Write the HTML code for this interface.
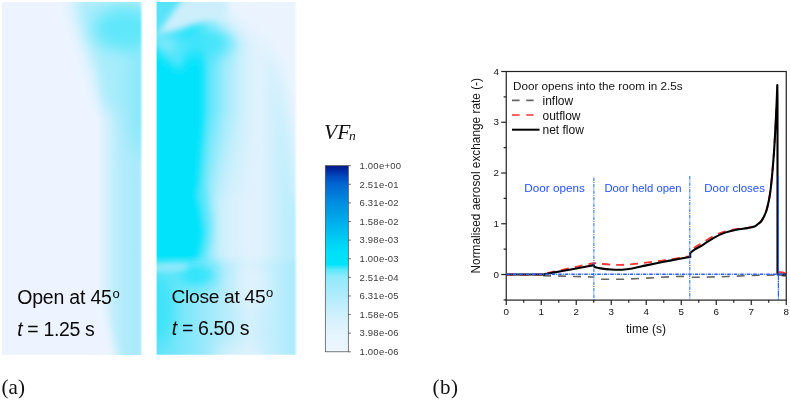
<!DOCTYPE html>
<html><head><meta charset="utf-8">
<style>
html,body{margin:0;padding:0;background:#fff;}
body{width:790px;height:400px;overflow:hidden;font-family:"Liberation Sans",sans-serif;}
svg{display:block;}
text{font-family:"Liberation Sans",sans-serif;}
.serif{font-family:"Liberation Serif",serif;}
</style></head><body>
<svg width="790" height="400" viewBox="0 0 790 400" style="opacity:0.999">
<defs>
<filter id="b3" x="-50%" y="-50%" width="200%" height="200%"><feGaussianBlur stdDeviation="3"/></filter>
<filter id="b5" x="-50%" y="-50%" width="200%" height="200%"><feGaussianBlur stdDeviation="5"/></filter>
<filter id="b8" x="-50%" y="-50%" width="200%" height="200%"><feGaussianBlur stdDeviation="8"/></filter>
<filter id="b12" x="-50%" y="-50%" width="200%" height="200%"><feGaussianBlur stdDeviation="12"/></filter>
<filter id="b1" x="-50%" y="-50%" width="200%" height="200%"><feGaussianBlur stdDeviation="1"/></filter>
<filter id="b10" x="-50%" y="-50%" width="200%" height="200%"><feGaussianBlur stdDeviation="10"/></filter>
<filter id="e1" x="-5%" y="-5%" width="110%" height="110%"><feGaussianBlur stdDeviation="0.6"/></filter>
<clipPath id="c1"><rect x="2" y="2" width="141.5" height="353"/></clipPath>
<clipPath id="c2"><rect x="156.6" y="2" width="141.4" height="352.8"/></clipPath>
<linearGradient id="p1band" gradientUnits="userSpaceOnUse" x1="2" y1="0" x2="142" y2="0">
<stop offset="0" stop-color="#edf4ff"/><stop offset="0.675" stop-color="#edf4ff"/><stop offset="0.735" stop-color="#daf1fd"/><stop offset="0.80" stop-color="#c0eefc"/><stop offset="0.87" stop-color="#b2ebfb"/><stop offset="0.95" stop-color="#aaeafb"/><stop offset="1" stop-color="#b2ebfc"/>
</linearGradient>
<linearGradient id="p2right" x1="0" y1="0" x2="1" y2="0">
<stop offset="0" stop-color="#e4f2fd"/><stop offset="0.70" stop-color="#e4f2fd"/><stop offset="0.86" stop-color="#c4eefc"/><stop offset="1" stop-color="#aeebfb"/>
</linearGradient>
<linearGradient id="p2mid" gradientUnits="userSpaceOnUse" x1="157" y1="0" x2="297" y2="0">
<stop offset="0" stop-color="#00e3fa"/><stop offset="0.245" stop-color="#00e3fa"/><stop offset="0.307" stop-color="#50e5fa"/><stop offset="0.379" stop-color="#a0ebfb"/><stop offset="0.45" stop-color="#c8effc"/><stop offset="0.53" stop-color="#d8f1fd"/><stop offset="0.664" stop-color="#e1f2fd"/><stop offset="0.74" stop-color="#e0f2fd"/><stop offset="0.83" stop-color="#d0f0fc"/><stop offset="0.91" stop-color="#c0eefc"/><stop offset="1" stop-color="#b8edfc"/>
</linearGradient>
<linearGradient id="p2halo" gradientUnits="userSpaceOnUse" x1="199" y1="0" x2="260" y2="0">
<stop offset="0" stop-color="#10e3fa"/><stop offset="0.17" stop-color="#5ce6fa"/><stop offset="0.42" stop-color="#9eebfb"/><stop offset="0.62" stop-color="#c0eefc"/><stop offset="0.85" stop-color="#d6f1fd" stop-opacity="0.7"/><stop offset="1" stop-color="#dcf1fd" stop-opacity="0"/>
</linearGradient>
<linearGradient id="ghalo" x1="0" y1="0" x2="0" y2="1"><stop offset="0" stop-color="#000"/><stop offset="0.08" stop-color="#fff"/><stop offset="0.45" stop-color="#fff"/><stop offset="0.95" stop-color="#000"/></linearGradient>
<mask id="mhalo" maskUnits="userSpaceOnUse" x="192" y="30" width="72" height="180"><rect x="192" y="30" width="72" height="180" fill="url(#ghalo)"/></mask>
<linearGradient id="p2bot" gradientUnits="userSpaceOnUse" x1="157" y1="0" x2="297" y2="0">
<stop offset="0" stop-color="#62e4f9"/><stop offset="0.27" stop-color="#8ce8fb"/><stop offset="0.48" stop-color="#b5ecfb"/><stop offset="0.66" stop-color="#d4f0fd"/><stop offset="0.84" stop-color="#c0eefc"/><stop offset="1" stop-color="#a8eafb"/>
</linearGradient>
<linearGradient id="p2top" gradientUnits="userSpaceOnUse" x1="157" y1="0" x2="297" y2="0">
<stop offset="0" stop-color="#70e6fa"/><stop offset="0.2" stop-color="#8ae8fb"/><stop offset="0.35" stop-color="#d6f1fd"/><stop offset="0.5" stop-color="#e6f3fe"/><stop offset="1" stop-color="#edf4ff"/>
</linearGradient>
<linearGradient id="gbot" x1="0" y1="0" x2="0" y2="1"><stop offset="0.125" stop-color="#000"/><stop offset="0.215" stop-color="#fff"/></linearGradient>
<linearGradient id="gtop" x1="0" y1="0" x2="0" y2="1"><stop offset="0.35" stop-color="#fff"/><stop offset="0.85" stop-color="#000"/></linearGradient>
<mask id="mbot" maskUnits="userSpaceOnUse" x="150" y="240" width="150" height="120"><rect x="150" y="240" width="150" height="120" fill="url(#gbot)"/></mask>
<mask id="mtop" maskUnits="userSpaceOnUse" x="150" y="0" width="150" height="70"><rect x="150" y="0" width="150" height="70" fill="url(#gtop)"/></mask>
<linearGradient id="p2base" x1="0" y1="0" x2="1" y2="0">
<stop offset="0" stop-color="#00e3fa"/><stop offset="0.30" stop-color="#05e3fa"/><stop offset="0.42" stop-color="#7fe8fb"/><stop offset="0.55" stop-color="#cdeffc"/><stop offset="0.70" stop-color="#e2f2fd"/><stop offset="0.85" stop-color="#c4eefc"/><stop offset="1" stop-color="#b4ecfb"/>
</linearGradient>
<linearGradient id="wfade" x1="0" y1="0" x2="1" y2="0"><stop offset="0" stop-color="#fff" stop-opacity="0"/><stop offset="0.8" stop-color="#fff" stop-opacity="1"/><stop offset="1" stop-color="#fff" stop-opacity="1"/></linearGradient>
<linearGradient id="cbg" x1="0" y1="0" x2="0" y2="1">
<stop offset="0" stop-color="#001888"/><stop offset="0.03" stop-color="#0030a8"/><stop offset="0.06" stop-color="#004cc0"/><stop offset="0.10" stop-color="#0066d0"/><stop offset="0.20" stop-color="#008ee0"/><stop offset="0.30" stop-color="#00aeec"/><stop offset="0.40" stop-color="#00cef4"/><stop offset="0.47" stop-color="#00e0f9"/><stop offset="0.53" stop-color="#00e4fa"/><stop offset="0.56" stop-color="#60e8fa"/><stop offset="0.60" stop-color="#90eafb"/><stop offset="0.70" stop-color="#b0ecfc"/><stop offset="0.80" stop-color="#d0f0fd"/><stop offset="0.90" stop-color="#e4f4fe"/><stop offset="1" stop-color="#eef6ff"/>
</linearGradient>
</defs>

<!-- panel 1 -->
<g clip-path="url(#c1)" filter="url(#e1)">
<rect x="2" y="2" width="140" height="353" fill="#edf4ff"/>
<rect x="2" y="60" width="140" height="300" fill="url(#p1band)"/>
<g filter="url(#b8)">
<path d="M74,-6 L150,-6 L150,110 L104,110 Q96,70 84,40 Q76,20 74,-6 Z" fill="#a8ecfb"/>
</g>
<path d="M90,295 L101,295 Q108,330 119,362 L90,362 Z" fill="#edf4ff" filter="url(#b5)"/>
<g filter="url(#b10)">
<ellipse cx="146" cy="95" rx="17" ry="62" fill="#84e8fa"/>
</g>
<g filter="url(#b8)">
<ellipse cx="126" cy="29" rx="32" ry="22" fill="#60e7fa"/>
</g>
</g>
<rect x="139.8" y="1" width="4.2" height="355" fill="url(#wfade)"/>

<!-- panel 2 -->
<g clip-path="url(#c2)" filter="url(#e1)">
<rect x="150" y="0" width="150" height="360" fill="url(#p2mid)"/>
<!-- wider halo near top -->
<rect x="192" y="30" width="72" height="180" fill="url(#p2halo)" mask="url(#mhalo)"/>
<path d="M192,188 L205,192 L212,224 L209,250 L192,257 Z" fill="#4ce5fa" opacity="0.75" filter="url(#b5)"/>
<g filter="url(#b3)">
<path d="M170,40 L201,40 L201,125 L194,200 L170,200 Z" fill="#00e3fa"/>
<path d="M180,200 L197,200 L203,232 L200,250 L194,259 L180,259 Z" fill="#00e3fa"/>
</g>
<!-- bottom overlay -->
<rect x="150" y="240" width="150" height="120" fill="url(#p2bot)" mask="url(#mbot)"/>
<!-- top-right light region -->
<g filter="url(#b8)">
<path d="M200,-10 L310,-10 L310,200 L298,200 L288,125 L277,68 L254,28 L215,10 Z" fill="#ebf4fe"/>
</g>
<g filter="url(#b5)">
<path d="M150,-5 L200,-5 L196,20 L180,36 L150,44 Z" fill="#58e3f9"/>
</g>
<g filter="url(#b8)">
<ellipse cx="204" cy="42" rx="28" ry="15" fill="#44e4fa"/>
<ellipse cx="197" cy="275" rx="20" ry="10" fill="#18e3fa"/>
<ellipse cx="158" cy="308" rx="16" ry="36" fill="#3ce3f9"/>
<ellipse cx="252" cy="284" rx="14" ry="24" fill="#dff2fd"/>
<ellipse cx="240" cy="356" rx="24" ry="8" fill="#e0f3fd"/>
</g>
<g filter="url(#b3)" fill="none" stroke-linecap="round">
<path d="M184,-3 L228,-3 L228,16 L195,24 L156,36 Z" fill="#cdeffc" stroke="none"/>
<path d="M154,268 L184,267" stroke="#a6ecfb" stroke-width="5"/>
</g>
<g filter="url(#b5)" fill="none" stroke-linecap="round">
<path d="M154,33 L191,41 L181,71 L168,62 L154,48 Z" fill="#52e5fb" stroke="none"/>
<path d="M154,33 L178,38 L170,54 L154,44 Z" fill="#7ae8fb" stroke="none"/>
</g>
</g>

<rect x="294" y="1" width="4.2" height="355" fill="url(#wfade)"/>
<!-- panel text -->
<g font-size="19.5" fill="#0a0a0a" letter-spacing="-0.2">
<text x="17.2" y="304">Open at 45<tspan font-size="13" dy="-6.5" dx="0.8">o</tspan></text>
<text x="17.2" y="336.2" letter-spacing="-0.35"><tspan font-style="italic">t</tspan> = 1.25 s</text>
<text x="171.5" y="303" font-size="19.2" letter-spacing="-0.3">Close at 45<tspan font-size="13" dy="-6.5" dx="0.8">o</tspan></text>
<text x="171.8" y="335.4" letter-spacing="-0.35"><tspan font-style="italic">t</tspan> = 6.50 s</text>
</g>

<!-- colorbar -->
<text class="serif" x="324" y="138.6" font-size="21.5" font-style="italic" fill="#111">VF<tspan font-size="13.5" dy="1.8" dx="-1.2">n</tspan></text>
<rect x="325.3" y="165.7" width="23" height="186.10" fill="url(#cbg)" stroke="#444" stroke-width="0.7"/>
<g stroke="#444" stroke-width="0.7">
<line x1="348" y1="165.70" x2="351" y2="165.70"/>
<line x1="348" y1="184.31" x2="351" y2="184.31"/>
<line x1="348" y1="202.92" x2="351" y2="202.92"/>
<line x1="348" y1="221.53" x2="351" y2="221.53"/>
<line x1="348" y1="240.14" x2="351" y2="240.14"/>
<line x1="348" y1="258.75" x2="351" y2="258.75"/>
<line x1="348" y1="277.36" x2="351" y2="277.36"/>
<line x1="348" y1="295.97" x2="351" y2="295.97"/>
<line x1="348" y1="314.58" x2="351" y2="314.58"/>
<line x1="348" y1="333.19" x2="351" y2="333.19"/>
<line x1="348" y1="351.80" x2="351" y2="351.80"/>
</g>
<g font-size="9.5" fill="#3a3a3a" letter-spacing="0.25">
<text x="359.4" y="169.00">1.00e+00</text>
<text x="359.4" y="187.61">2.51e-01</text>
<text x="359.4" y="206.22">6.31e-02</text>
<text x="359.4" y="224.83">1.58e-02</text>
<text x="359.4" y="243.44">3.98e-03</text>
<text x="359.4" y="262.05">1.00e-03</text>
<text x="359.4" y="280.66">2.51e-04</text>
<text x="359.4" y="299.27">6.31e-05</text>
<text x="359.4" y="317.88">1.58e-05</text>
<text x="359.4" y="336.49">3.98e-06</text>
<text x="359.4" y="355.10">1.00e-06</text>
</g>

<!-- chart -->
<g stroke="#222" stroke-width="1.2" fill="none">
<rect x="506.25" y="71.5" width="280" height="228.6"/>
<line x1="506.25" y1="300" x2="506.25" y2="305"/>
<line x1="523.75" y1="300" x2="523.75" y2="302.7"/>
<line x1="541.25" y1="300" x2="541.25" y2="305"/>
<line x1="558.75" y1="300" x2="558.75" y2="302.7"/>
<line x1="576.25" y1="300" x2="576.25" y2="305"/>
<line x1="593.75" y1="300" x2="593.75" y2="302.7"/>
<line x1="611.25" y1="300" x2="611.25" y2="305"/>
<line x1="628.75" y1="300" x2="628.75" y2="302.7"/>
<line x1="646.25" y1="300" x2="646.25" y2="305"/>
<line x1="663.75" y1="300" x2="663.75" y2="302.7"/>
<line x1="681.25" y1="300" x2="681.25" y2="305"/>
<line x1="698.75" y1="300" x2="698.75" y2="302.7"/>
<line x1="716.25" y1="300" x2="716.25" y2="305"/>
<line x1="733.75" y1="300" x2="733.75" y2="302.7"/>
<line x1="751.25" y1="300" x2="751.25" y2="305"/>
<line x1="768.75" y1="300" x2="768.75" y2="302.7"/>
<line x1="786.25" y1="300" x2="786.25" y2="305"/>
<line x1="503.6" y1="299.88" x2="506.25" y2="299.88"/>
<line x1="501.2" y1="274.50" x2="506.25" y2="274.50"/>
<line x1="503.6" y1="249.12" x2="506.25" y2="249.12"/>
<line x1="501.2" y1="223.75" x2="506.25" y2="223.75"/>
<line x1="503.6" y1="198.38" x2="506.25" y2="198.38"/>
<line x1="501.2" y1="173.00" x2="506.25" y2="173.00"/>
<line x1="503.6" y1="147.62" x2="506.25" y2="147.62"/>
<line x1="501.2" y1="122.25" x2="506.25" y2="122.25"/>
<line x1="503.6" y1="96.88" x2="506.25" y2="96.88"/>
<line x1="501.2" y1="71.50" x2="506.25" y2="71.50"/>
</g>
<g font-size="9.8" fill="#111">
<text x="506.25" y="315.3" text-anchor="middle">0</text>
<text x="541.25" y="315.3" text-anchor="middle">1</text>
<text x="576.25" y="315.3" text-anchor="middle">2</text>
<text x="611.25" y="315.3" text-anchor="middle">3</text>
<text x="646.25" y="315.3" text-anchor="middle">4</text>
<text x="681.25" y="315.3" text-anchor="middle">5</text>
<text x="716.25" y="315.3" text-anchor="middle">6</text>
<text x="751.25" y="315.3" text-anchor="middle">7</text>
<text x="786.25" y="315.3" text-anchor="middle">8</text>
<text x="499" y="277.70" text-anchor="end">0</text>
<text x="499" y="226.95" text-anchor="end">1</text>
<text x="499" y="176.20" text-anchor="end">2</text>
<text x="499" y="125.45" text-anchor="end">3</text>
<text x="499" y="74.70" text-anchor="end">4</text>
</g>
<text x="646" y="333.1" font-size="12" text-anchor="middle" fill="#111">time (s)</text>
<text transform="translate(480.2,175.75) rotate(-90)" font-size="11.85" text-anchor="middle" fill="#111">Normalised aerosol exchange rate (-)</text>

<!-- legend -->
<g font-size="12" fill="#111">
<text x="513" y="89.8" font-size="11.7">Door opens into the room in 2.5s</text>
<text x="542.5" y="104.6">inflow</text>
<text x="542.5" y="119.7">outflow</text>
<text x="542.5" y="133.9">net flow</text>
</g>
<g fill="none" stroke-width="1.6">
<path d="M512,100.4 H519.6 M526.3,100.4 H533.6" stroke="#666"/>
<path d="M512,115 H519.6 M526.3,115 H533.6" stroke="#f33"/>
<path d="M512,129.7 H539.5" stroke="#000" stroke-width="2"/>
</g>

<!-- curves -->
<g fill="none" stroke-linejoin="round">
<path d="M543.00,275.77 L551.75,275.92 L562.25,276.17 L576.25,276.53 L593.40,277.04" stroke="#666" stroke-width="1.6" stroke-dasharray="8 7"/>
<path d="M601.10,279.32 L621.75,279.32 L639.25,278.56 L656.75,277.55 L674.25,276.53 L688.25,276.28" stroke="#666" stroke-width="1.6" stroke-dasharray="8 7"/>
<path d="M691.75,277.29 L709.25,277.04 L726.75,276.53 L744.25,275.77 L761.75,275.26 L775.75,275.01 L786.25,276.02" stroke="#666" stroke-width="1.6" stroke-dasharray="8 7"/>
<path d="M506.25,274.50 C512.08,274.50 534.83,274.62 541.25,274.50 C547.67,274.38 543.00,274.17 544.75,273.79 C546.50,273.41 548.83,272.88 551.75,272.22 C554.67,271.56 558.17,270.74 562.25,269.83 C566.33,268.93 572.17,267.66 576.25,266.79 C580.33,265.91 583.83,265.20 586.75,264.60 C589.67,264.01 591.42,263.36 593.75,263.23 C596.08,263.11 597.83,263.61 600.75,263.84 C603.67,264.07 607.75,264.43 611.25,264.60 C614.75,264.77 618.25,264.94 621.75,264.86 C625.25,264.77 628.75,264.39 632.25,264.10 C635.75,263.80 639.25,263.46 642.75,263.08 C646.25,262.70 649.75,262.28 653.25,261.81 C656.75,261.35 659.08,260.97 663.75,260.29 C668.42,259.61 676.88,258.43 681.25,257.75 C685.62,257.08 688.54,256.48 690.00,256.23 L690.35,251.66 C691.17,250.90 693.21,248.62 695.25,247.09 C697.29,245.57 699.51,244.39 702.60,242.53 C705.69,240.67 710.07,237.79 713.80,235.93 C717.53,234.07 721.27,232.50 725.00,231.36 C728.73,230.22 732.47,229.67 736.20,229.08 C739.93,228.49 744.37,228.28 747.40,227.81 C750.43,227.34 752.63,226.92 754.40,226.29 C756.17,225.65 756.90,224.80 758.00,224.00 C759.10,223.20 760.00,222.75 761.00,221.50 C762.00,220.25 763.12,218.25 764.00,216.50 C764.88,214.75 765.63,213.00 766.30,211.00 C766.97,209.00 767.47,206.83 768.00,204.50 C768.53,202.17 769.03,199.75 769.50,197.00 C769.97,194.25 770.32,192.17 770.80,188.00 C771.28,183.83 771.87,178.00 772.40,172.00 C772.93,166.00 773.53,158.67 774.00,152.00 C774.47,145.33 774.80,139.33 775.20,132.00 C775.60,124.67 776.20,112.00 776.40,108.00" stroke="#f33" stroke-width="1.8" stroke-dasharray="8 6"/>
<path d="M777.85,271.96 L782.75,272.47 L786.25,273.49" stroke="#f33" stroke-width="1.8"/>
<path d="M506.25,274.50 C512.08,274.50 534.83,274.57 541.25,274.50 C547.67,274.43 543.00,274.36 544.75,274.09 C546.50,273.82 548.83,273.40 551.75,272.88 C554.67,272.35 558.17,271.69 562.25,270.95 C566.33,270.20 572.17,269.15 576.25,268.41 C580.33,267.67 583.83,267.03 586.75,266.48 C589.67,265.93 592.58,265.34 593.75,265.11 L594.45,266.89 C595.50,267.14 597.95,267.97 600.75,268.41 C603.55,268.85 607.75,269.32 611.25,269.53 C614.75,269.74 618.25,269.86 621.75,269.68 C625.25,269.49 628.17,269.13 632.25,268.41 C636.33,267.69 641.00,266.46 646.25,265.37 C651.50,264.27 657.92,262.95 663.75,261.81 C669.58,260.67 676.93,259.32 681.25,258.51 C685.57,257.71 688.19,257.25 689.65,256.99 C691.11,256.74 689.94,256.99 690.00,256.99 L690.35,252.68 C691.17,252.09 693.21,250.39 695.25,249.12 C697.29,247.86 699.51,246.95 702.60,245.06 C705.69,243.18 710.07,239.88 713.80,237.81 C717.53,235.74 721.27,233.98 725.00,232.63 C728.73,231.28 732.47,230.44 736.20,229.69 C739.93,228.93 744.37,228.64 747.40,228.11 C750.43,227.59 752.63,227.23 754.40,226.54 C756.17,225.86 756.90,224.84 758.00,224.00 C759.10,223.16 760.00,222.75 761.00,221.50 C762.00,220.25 763.12,218.25 764.00,216.50 C764.88,214.75 765.63,213.00 766.30,211.00 C766.97,209.00 767.47,206.83 768.00,204.50 C768.53,202.17 769.03,199.75 769.50,197.00 C769.97,194.25 770.32,192.17 770.80,188.00 C771.28,183.83 771.87,178.00 772.40,172.00 C772.93,166.00 773.53,158.67 774.00,152.00 C774.47,145.33 774.80,139.33 775.20,132.00 C775.60,124.67 776.05,115.83 776.40,108.00 C776.75,100.17 777.15,88.83 777.30,85.00 L777.50,100.00 L777.50,274.50 L786.00,274.50" stroke="#000" stroke-width="2.1"/>
</g>

<!-- blue lines -->
<g fill="none" stroke="#2565ff" stroke-width="1.0" stroke-dasharray="3.5 1 1 1">
<path d="M506.25,274.2 H786.25" stroke-width="1.4"/>
<path d="M593.9,177.5 V300"/>
<path d="M689.8,176 V300"/>
<path d="M778.4,176 V300" stroke-dasharray="6 0.6 1 0.6" stroke-width="1.2"/>
</g>
<g font-size="11.5" fill="#2450ff">
<text x="524.3" y="191.7" font-size="11.7">Door opens</text>
<text x="604.4" y="191.7" font-size="11.3">Door held open</text>
<text x="704.3" y="191.7">Door closes</text>
</g>

<!-- captions -->
<g class="serif" font-size="21" fill="#111">
<text class="serif" x="1.6" y="394.3">(a)</text>
<text class="serif" x="432.6" y="394.3" letter-spacing="0.4">(b)</text>
</g>
</svg>
</body></html>
